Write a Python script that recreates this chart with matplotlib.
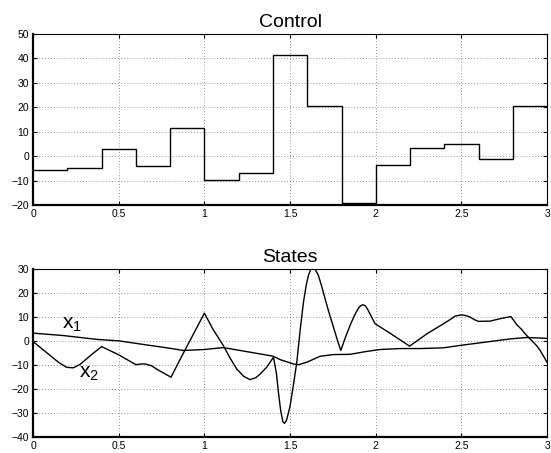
import matplotlib
matplotlib.use("Agg")
import matplotlib.pyplot as plt

'''
Control input and state trajectories
'''

# piecewise constant control, one value per 0.2 s interval
tEdges = [0.0, 0.2, 0.4, 0.6, 0.8, 1.0, 1.2, 1.4, 1.6, 1.8, 2.0, 2.2, 2.4, 2.6, 2.8, 3.0]
uVals = [-5.5, -4.8, 3.0, -4.0, 11.7, -9.5, -7.0, 41.3, 20.5, -19.0, -3.7, 3.5, 5.2, -1.0, 20.7]

# state x1 (slow)
t1 = [0.0, 0.177, 0.372, 0.5, 0.663, 0.8, 0.877, 1.0, 1.11, 1.266, 1.403, 1.442,
      1.52, 1.55, 1.597, 1.675, 1.753, 1.85, 1.946, 2.025, 2.141, 2.259, 2.395,
      2.492, 2.589, 2.687, 2.784, 2.881, 2.978, 3.0]
x1 = [3.2, 2.2, 0.6, 0.0, -1.7, -3.1, -4.0, -3.6, -2.8, -4.7, -6.4, -7.8,
      -9.6, -9.9, -8.9, -6.4, -5.7, -5.6, -4.4, -3.6, -3.2, -3.2, -2.9,
      -1.9, -1.0, -0.1, 0.8, 1.4, 1.1, 1.0]

# state x2 (fast)
t2 = [0.0, 0.05, 0.1, 0.15, 0.196, 0.235, 0.274, 0.34, 0.4, 0.5, 0.6, 0.63, 0.654,
      0.69, 0.72, 0.76, 0.805, 0.877, 1.0, 1.05, 1.11, 1.15, 1.189, 1.23, 1.266,
      1.3, 1.325, 1.365, 1.403, 1.42, 1.432, 1.445, 1.458, 1.467, 1.478, 1.49,
      1.5, 1.52, 1.539, 1.558, 1.578, 1.595, 1.607, 1.62, 1.632, 1.648, 1.665,
      1.685, 1.704, 1.73, 1.753, 1.775, 1.796, 1.823, 1.85, 1.875, 1.899, 1.912,
      1.924, 1.938, 1.951, 1.975, 1.996, 2.083, 2.197, 2.298, 2.395, 2.435,
      2.463, 2.502, 2.525, 2.55, 2.575, 2.599, 2.667, 2.726, 2.788, 2.805,
      2.823, 2.85, 2.872, 2.9, 2.92, 2.94, 2.959, 2.98, 3.0]
x2 = [-0.3, -3.2, -6.1, -9.0, -11.0, -11.2, -9.8, -5.8, -2.4, -5.8, -9.9, -9.6,
      -9.6, -10.3, -11.7, -13.3, -15.1, -5.1, 11.5, 4.8, -1.9, -7.2, -11.7, -14.8,
      -16.1, -15.3, -13.8, -10.8, -6.8, -13.5, -21.4, -29.0, -33.6, -34.3, -33.2,
      -30.0, -27.0, -18.0, -8.9, 4.0, 16.1, 23.5, 27.2, 29.6, 30.3, 29.5, 27.2,
      22.5, 17.5, 11.0, 5.7, 0.5, -4.0, 1.5, 6.4, 10.5, 13.6, 14.6, 15.0, 14.6,
      13.3, 10.0, 7.1, 3.2, -2.2, 2.9, 7.1, 8.9, 10.3, 10.8, 10.5, 9.9, 8.8,
      8.1, 8.2, 9.2, 10.1, 8.5, 6.7, 4.8, 2.9, 0.8, -0.6, -2.1, -4.0, -6.5, -9.0]

plt.rcParams['font.family'] = ['Liberation Sans', 'DejaVu Sans']
plt.rcParams['mathtext.default'] = 'regular'

fig = plt.figure(figsize=(5.51, 4.53), dpi=100)
axU = fig.add_axes([0.06, 0.547, 0.933, 0.378])
axX = fig.add_axes([0.06, 0.035, 0.933, 0.372])

for ax in (axU, axX):
	ax.tick_params(direction='in', labelsize=7.5, top=True, right=True, length=3, pad=3)
	ax.grid(True, linestyle=(0, (1, 2.5)), color='black', linewidth=0.6, alpha=0.55)
	ax.spines['left'].set_linewidth(1.6)
	ax.spines['bottom'].set_linewidth(1.6)
	ax.spines['top'].set_linewidth(0.8)
	ax.spines['right'].set_linewidth(0.8)
	ax.set_xlim(0, 3)
	ax.set_xticks([0, 0.5, 1, 1.5, 2, 2.5, 3])
	ax.set_xticklabels(['0', '0.5', '1', '1.5', '2', '2.5', '3'])

# Control (zero-order hold)
axU.stairs(uVals, tEdges, color='black', linewidth=1.0, baseline=None)
axU.set_ylim(-20, 50)
axU.set_yticks([-20, -10, 0, 10, 20, 30, 40, 50])
axU.set_title('Control', fontsize=14, pad=5)

# States
axX.plot(t1, x1, color='black', linewidth=1.0)
axX.plot(t2, x2, color='black', linewidth=1.0)
axX.set_ylim(-40, 30)
axX.set_yticks([-40, -30, -20, -10, 0, 10, 20, 30])
axX.set_title('States', fontsize=14, pad=5)
axX.text(0.171, 5.0, '$x_1$', fontsize=15)
axX.text(0.27, -15.5, '$x_2$', fontsize=15)

fig.savefig('out.png', dpi=100)
